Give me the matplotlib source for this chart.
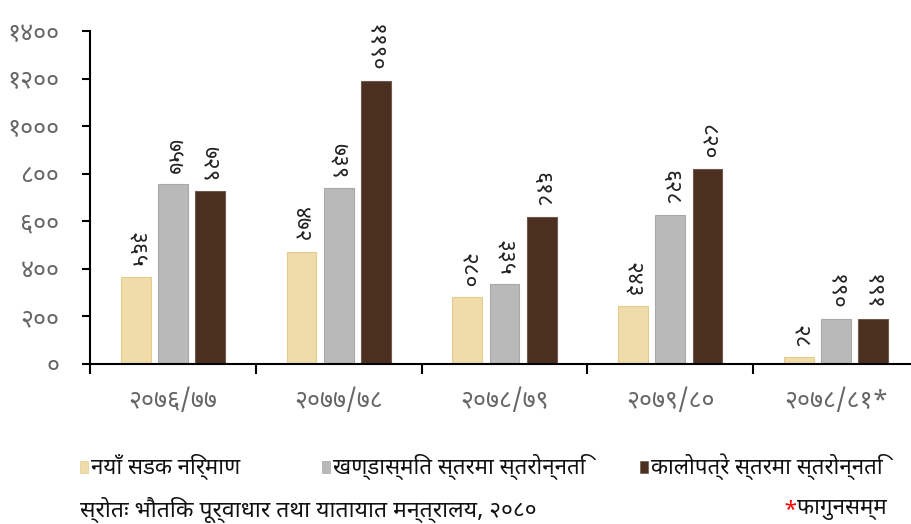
import matplotlib
matplotlib.use("Agg")
import matplotlib.pyplot as plt
import numpy as np

DEV = ['Noto Sans Devanagari', 'DejaVu Sans']
plt.rcParams['font.family'] = DEV

categories = ['२०७६/७७', '२०७७/७८', '२०७८/७९', '२०७९/८०', '२०७८/८१*']
series_names = ['नयाँ सडक निर्माण', 'खण्डास्मित स्तरमा स्तरोन्नति', 'कालोपत्रे स्तरमा स्तरोन्नति']
new_road = [365, 472, 280, 243, 28]
gravel_upgrade = [757, 739, 335, 628, 190]
blacktop_upgrade = [729, 1190, 618, 820, 191]
series = [new_road, gravel_upgrade, blacktop_upgrade]
yticks = [0, 200, 400, 600, 800, 1000, 1200, 1400]

DIG = str.maketrans('0123456789', '०१२३४५६७८९')
def dev(n):
    return str(n).translate(DIG)

colors = ['#EFDCA8', '#B9B9B9', '#4B2F1F']
edges = ['#E3CC8E', '#A8A8A8', '#6E5A4E']

W, H = 911, 524
fig = plt.figure(figsize=(W/100, H/100), dpi=100)
ax = fig.add_axes([90/W, 1-364/H, (911-90)/W, (364-31)/H])

x = np.arange(len(categories))
width = 0.18
step = 0.224
for i, (vals, c, e) in enumerate(zip(series, colors, edges)):
    pos = x + (i-1)*step
    ax.bar(pos, vals, width=width, color=c, edgecolor=e, linewidth=0.8)
    for p, v in zip(pos, vals):
        ax.text(p, v + 38, dev(v), rotation=-90, ha='center', va='bottom',
                fontsize=16.5, color='#222222')

ax.set_ylim(0, 1400)
ax.set_xlim(-0.5, 4.5 - 8/165.5)
ax.set_yticks(yticks)
ax.set_yticklabels([dev(t) for t in yticks], fontsize=18, color='#666666', fontweight='light')
ax.set_xticks(x)
ax.set_xticklabels(categories, fontsize=18, color='#666666', fontweight='light')
ax.tick_params(axis='x', length=0, pad=18)
ax.set_xticks(np.arange(-0.5, 4.5, 1.0), minor=True)
ax.tick_params(axis='x', which='minor', length=7, width=1.5, color='black')
ax.tick_params(axis='y', length=6, width=1.5, color='black', pad=16)
for s in ['top', 'right']:
    ax.spines[s].set_visible(False)
for s in ['left', 'bottom']:
    ax.spines[s].set_linewidth(1.5)
    ax.spines[s].set_color('black')

leg_x = [80, 322, 640]
for hx, c, e, name in zip(leg_x, colors, edges, series_names):
    fig.patches.append(plt.Rectangle((hx/W, 1-473/H), 8/W, 12/H, transform=fig.transFigure,
                                     facecolor=c, edgecolor=e, linewidth=0.5))
    fig.text((hx+11)/W, 1-467/H, name, fontsize=16, va='center', ha='left', color='#111111')

fig.text(80/W, 1-510/H, 'स्रोतः भौतिक पूर्वाधार तथा यातायात मन्त्रालय, २०८०', fontsize=16.5,
         va='center', ha='left', color='#111111')
fig.text(797/W, 1-510/H, '*', fontsize=16, va='center', ha='right', color='red')
fig.text(797/W, 1-510/H, 'फागुनसम्म', fontsize=16, va='center', ha='left', color='#111111')

fig.savefig('out.png', dpi=100)
